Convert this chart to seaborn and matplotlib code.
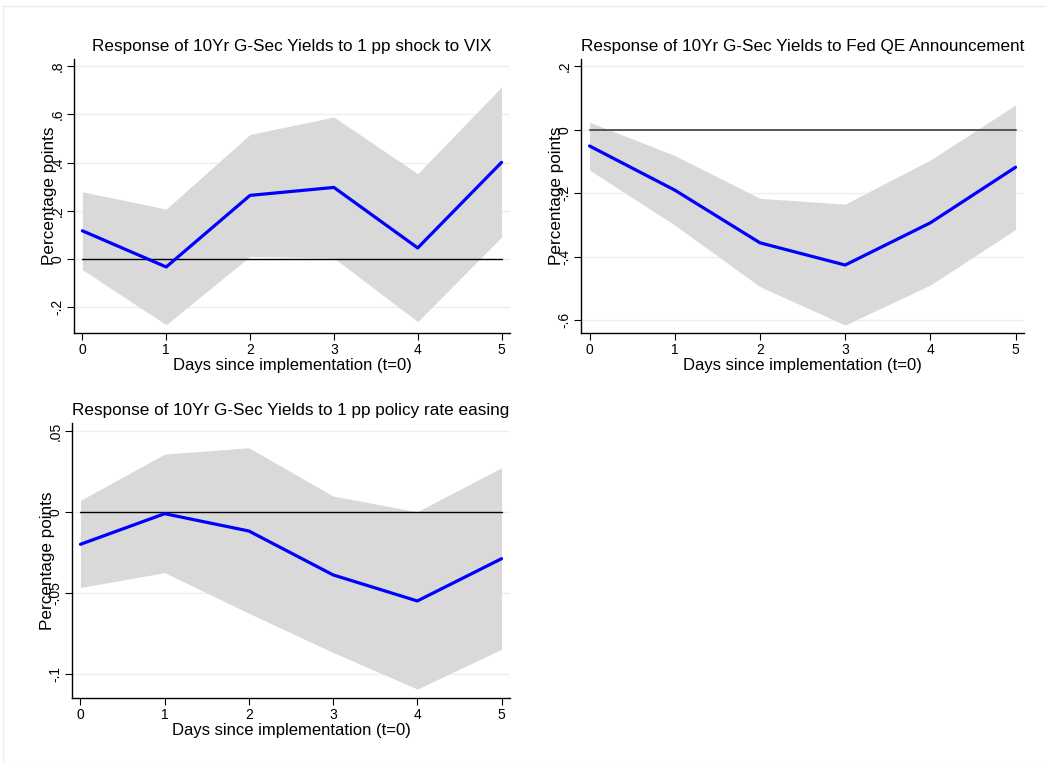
import numpy as np
import pandas as pd
import matplotlib
matplotlib.use("Agg")
import matplotlib.pyplot as plt
import seaborn as sns

days = [0, 1, 2, 3, 4, 5]

vix_irf = [0.117, -0.033, 0.264, 0.297, 0.046, 0.401]
vix_upper = [0.279, 0.207, 0.517, 0.589, 0.354, 0.714]
vix_lower = [-0.044, -0.273, 0.011, 0.004, -0.260, 0.091]

qe_irf = [-0.051, -0.190, -0.356, -0.426, -0.293, -0.118]
qe_upper = [0.024, -0.081, -0.216, -0.234, -0.095, 0.078]
qe_lower = [-0.127, -0.300, -0.494, -0.615, -0.489, -0.314]

rate_irf = [-0.0199, -0.0010, -0.0117, -0.0388, -0.0549, -0.0288]
rate_upper = [0.0072, 0.0358, 0.0397, 0.0099, 0.0002, 0.0274]
rate_lower = [-0.0466, -0.0374, -0.0625, -0.0867, -0.1093, -0.0847]

titles = [
    "Response of 10Yr G-Sec Yields to 1 pp shock to VIX",
    "Response of 10Yr G-Sec Yields to Fed QE Announcement",
    "Response of 10Yr G-Sec Yields to 1 pp policy rate easing",
]
yticks_list = [
    [-0.2, 0, 0.2, 0.4, 0.6, 0.8],
    [-0.6, -0.4, -0.2, 0, 0.2],
    [-0.1, -0.05, 0, 0.05],
]
yticklabels_list = [
    ["-.2", "0", ".2", ".4", ".6", ".8"],
    ["-.6", "-.4", "-.2", "0", ".2"],
    ["-.1", "-.05", "0", ".05"],
]
ylims = [(-0.307, 0.83), (-0.64, 0.223), (-0.115, 0.0548)]
zero_colors = ["black", "#555555", "black"]

sns.set_theme(style="white")
plt.rcParams["font.family"] = ["Liberation Sans", "DejaVu Sans"]
plt.rcParams["text.color"] = "black"
plt.rcParams["axes.labelcolor"] = "black"
plt.rcParams["xtick.color"] = "black"
plt.rcParams["ytick.color"] = "black"

fig = plt.figure(figsize=(10.45, 7.63), dpi=100)
fig.patch.set_facecolor("white")

positions = [
    [0.0708, 0.5636, 0.488 - 0.0708, 0.9227 - 0.5636],
    [0.556, 0.5636, 0.980 - 0.556, 0.9227 - 0.5636],
    [0.0689, 0.0848, 0.488 - 0.0689, 0.4452 - 0.0848],
]

series = [
    (vix_irf, vix_upper, vix_lower),
    (qe_irf, qe_upper, qe_lower),
    (rate_irf, rate_upper, rate_lower),
]

for i, (pos, (irf, up, lo)) in enumerate(zip(positions, series)):
    ax = fig.add_axes(pos)
    df = pd.DataFrame({"day": days, "irf": irf, "upper": up, "lower": lo})
    for yt in yticks_list[i]:
        ax.axhline(yt, color="#e8f0f2", lw=1.0, zorder=0)
    ax.fill_between(df["day"], df["lower"], df["upper"], color="#d9d9d9", lw=0, zorder=1)
    ax.plot([0, 5], [0, 0], color=zero_colors[i], lw=1.0 if i != 1 else 1.4, zorder=2)
    sns.lineplot(data=df, x="day", y="irf", ax=ax, color="#0000ff", lw=2.3, zorder=3)
    ax.set_xlim(-0.1, 5.1)
    ax.set_ylim(*ylims[i])
    ax.set_xticks(days)
    ax.set_xticklabels([str(d) for d in days], fontsize=10)
    ax.set_yticks(yticks_list[i])
    ax.set_yticklabels(yticklabels_list[i], fontsize=10, rotation=90, va="center")
    ax.tick_params(axis="both", direction="out", length=5, width=0.8, color="black",
                   left=True, bottom=True, pad=2)
    for s in ["top", "right"]:
        ax.spines[s].set_visible(False)
    for s in ["left", "bottom"]:
        ax.spines[s].set_color("black")
        ax.spines[s].set_linewidth(1.0)
    ax.set_title(titles[i], fontsize=12.3, pad=6)
    ax.set_xlabel("Days since implementation (t=0)", fontsize=12, labelpad=1)
    ax.set_ylabel("Percentage points", fontsize=12.3, labelpad=-5)
    ax.grid(False)

# light frame around the figure
fig.add_artist(plt.Rectangle((3 / 1045, 0.0), 1.0, 1 - 6 / 763, transform=fig.transFigure,
                             fill=False, edgecolor="#e6eef0", lw=1.0))

fig.savefig("out.png", dpi=100)
